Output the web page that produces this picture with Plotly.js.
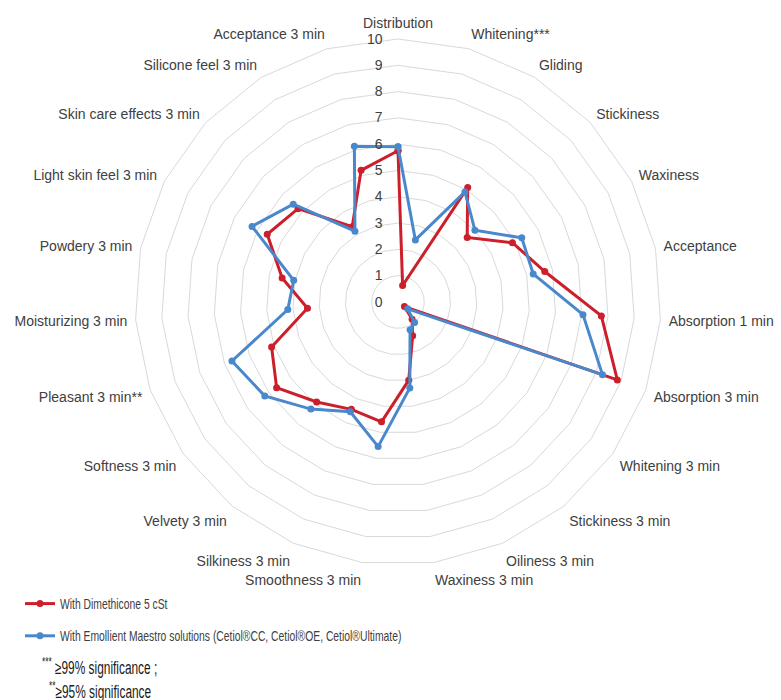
<!DOCTYPE html>
<html>
<head>
<meta charset="utf-8">
<script src="https://cdn.plot.ly/plotly-3.0.1.min.js"></script>
<style>html,body{margin:0;padding:0;background:#fff;}#chart{width:781px;height:700px;}</style>
</head>
<body>
<div id="chart"></div>
<script>
const categories = ["Distribution","Whitening***","Gliding","Stickiness","Waxiness","Acceptance","Absorption 1 min","Absorption 3 min","Whitening 3 min","Stickiness 3 min","Oiliness 3 min","Waxiness 3 min","Smoothness 3 min","Silkiness 3 min","Velvety 3 min","Softness 3 min","Pleasant 3 min**","Moisturizing 3 min","Powdery 3 min","Light skin feel 3 min","Skin care effects 3 min","Silicone feel 3 min","Acceptance 3 min"];
const dimethicone = [5.75,0.65,5.1,3.6,4.9,5.7,7.75,8.85,0.3,0.85,1.4,3.0,4.6,4.45,4.9,5.65,5.1,3.45,4.5,5.6,5.2,3.35,5.2];
const maestro = [5.9,2.45,4.9,4.0,5.3,5.25,7.05,8.25,0.45,1.0,1.15,3.3,5.55,4.55,5.25,6.2,6.7,4.2,4.05,6.25,5.45,3.15,6.15];
const seriesNames = ["With Dimethicone 5 cSt","With Emollient Maestro solutions (Cetiol®CC, Cetiol®OE, Cetiol®Ultimate)"];
const radialTicks = [0,1,2,3,4,5,6,7,8,9,10];
const notes = ["<sup>***</sup> ≥99% significance ;", "<sup>**</sup>≥95% significance"];

function closed(a){ return a.concat([a[0]]); }

const traces = [
  {type:'scatterpolar', r: closed(dimethicone), theta: closed(categories), name: seriesNames[0],
   mode:'lines+markers', line:{color:'#cc1f2b', width:3}, marker:{color:'#cc1f2b', size:7},
   legendgroup:'a'},
  {type:'scatterpolar', r: closed(maestro), theta: closed(categories), name: seriesNames[1],
   mode:'lines+markers', line:{color:'#4a88cc', width:3}, marker:{color:'#4a88cc', size:7},
   legendgroup:'b'}
];

const layout = {
  width:781, height:700,
  margin:{l:0,r:0,t:0,b:0},
  paper_bgcolor:'#fff',
  font:{family:'Liberation Sans, Arial, sans-serif', size:14, color:'#404040'},
  polar:{
    domain:{x:[135/781, 661/781], y:[1-565/700, 1-39/700]},
    bgcolor:'#fff',
    gridshape:'linear',
    radialaxis:{range:[0,10], tickvals:radialTicks, ticktext:radialTicks.map(String),
      showline:false, ticks:'outside', ticklen:10, tickcolor:'rgba(0,0,0,0)',
      gridcolor:'#d9d9d9', gridwidth:1, angle:90, side:'counterclockwise',
      tickangle:90, tickfont:{size:14, color:'#404040'}},
    angularaxis:{direction:'clockwise', rotation:90, showgrid:false, showline:true,
      linecolor:'#d9d9d9', linewidth:1, ticks:'outside', ticklen:5, tickcolor:'rgba(0,0,0,0)',
      tickfont:{size:14, color:'#404040'}}
  },
  showlegend:true,
  legend:{x:20/781, y:1-588/700, xanchor:'left', yanchor:'top', orientation:'v',
    traceorder:'grouped', tracegroupgap:11,
    font:{family:'Liberation Sans, Arial, sans-serif', size:14, color:'#404040'},
    itemwidth:30, bgcolor:'rgba(0,0,0,0)'},
  annotations:[
    {xref:'paper', yref:'paper', x:40/781, y:1-666/700, xanchor:'left', yanchor:'middle', showarrow:false,
     text:notes[0], font:{family:'Liberation Sans, Arial', size:18, color:'#1a1a1a'}},
    {xref:'paper', yref:'paper', x:47/781, y:1-690/700, xanchor:'left', yanchor:'middle', showarrow:false,
     text:notes[1], font:{family:'Liberation Sans, Arial', size:18, color:'#1a1a1a'}}
  ]
};

function condense(selector, s){
  document.querySelectorAll(selector).forEach(function(el){
    const bb = el.getBBox();
    const left = bb.x;
    const prev = el.getAttribute('transform') || '';
    el.setAttribute('transform', prev + ' translate(' + left + ',0) scale(' + s + ',1) translate(' + (-left) + ',0)');
  });
}

Plotly.newPlot('chart', traces, layout, {displayModeBar:false, staticPlot:true}).then(function(){
  condense('.legendtext', 0.74);
  condense('.annotation-text', 0.66);
});
</script>
</body>
</html>
